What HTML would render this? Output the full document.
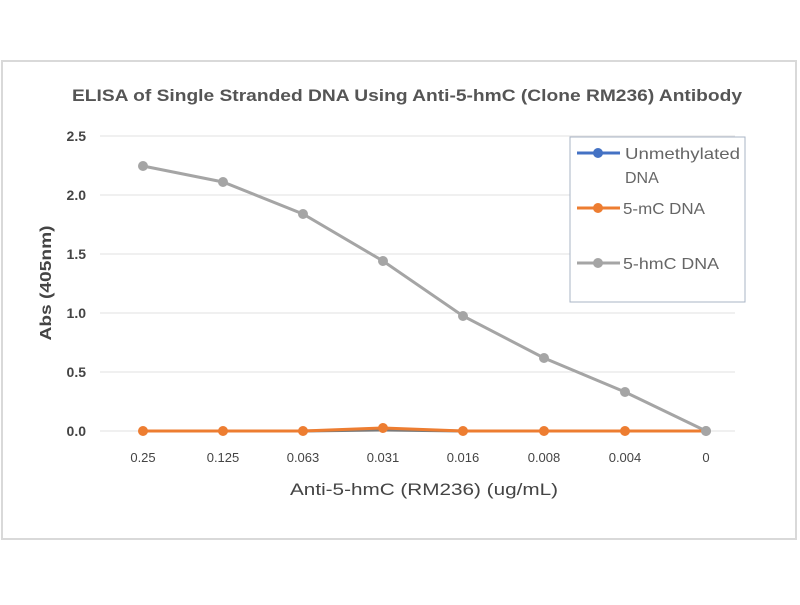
<!DOCTYPE html>
<html><head><style>
body{margin:0;background:#fff;}
svg text{font-family:"Liberation Sans",sans-serif;}
</style></head><body>
<svg width="800" height="600" xmlns="http://www.w3.org/2000/svg">
<rect x="0" y="0" width="800" height="600" fill="#fff"/>
<rect x="2" y="61" width="794" height="478" fill="#fff" stroke="#d9d9d9" stroke-width="2"/>
<text x="72" y="101" font-size="17" font-weight="bold" fill="#555" textLength="670" lengthAdjust="spacingAndGlyphs">ELISA of Single Stranded DNA Using Anti-5-hmC (Clone RM236) Antibody</text>
<g stroke="#e2e2e2" stroke-width="1">
<line x1="100" y1="136" x2="735" y2="136"/>
<line x1="100" y1="195" x2="735" y2="195"/>
<line x1="100" y1="254" x2="735" y2="254"/>
<line x1="100" y1="313" x2="735" y2="313"/>
<line x1="100" y1="372" x2="735" y2="372"/>
<line x1="100" y1="431" x2="735" y2="431"/>
</g>
<g font-size="14" fill="#444" text-anchor="end" font-weight="bold">
<text x="86" y="141">2.5</text><text x="86" y="200">2.0</text><text x="86" y="259">1.5</text>
<text x="86" y="318">1.0</text><text x="86" y="377">0.5</text><text x="86" y="436">0.0</text>
</g>
<g font-size="13" fill="#444" text-anchor="middle">
<text x="143" y="462">0.25</text><text x="223" y="462">0.125</text><text x="303" y="462">0.063</text>
<text x="383" y="462">0.031</text><text x="463" y="462">0.016</text><text x="544" y="462">0.008</text>
<text x="625" y="462">0.004</text><text x="706" y="462">0</text>
</g>
<text x="290" y="495" font-size="17" fill="#444" textLength="268" lengthAdjust="spacingAndGlyphs">Anti-5-hmC (RM236) (ug/mL)</text>
<text transform="translate(51,283) rotate(-90)" font-size="16" font-weight="bold" fill="#444" text-anchor="middle" textLength="115" lengthAdjust="spacingAndGlyphs">Abs (405nm)</text>
<polyline fill="none" stroke="#a5a5a5" stroke-width="3" points="143,166 223,182 303,214 383,261 463,316 544,358 625,392 706,431"/>
<g fill="#a5a5a5"><circle cx="143" cy="166" r="5"/><circle cx="223" cy="182" r="5"/><circle cx="303" cy="214" r="5"/><circle cx="383" cy="261" r="5"/><circle cx="463" cy="316" r="5"/><circle cx="544" cy="358" r="5"/><circle cx="625" cy="392" r="5"/><circle cx="706" cy="431" r="5"/></g>
<polyline fill="none" stroke="#7a7a7a" stroke-width="3" points="143,431 223,431 303,431 383,430 463,431 544,431 625,431 706,431"/>
<polyline fill="none" stroke="#ed7d31" stroke-width="3" points="143,431 223,431 303,431 383,428 463,431 544,431 625,431 706,431"/>
<g fill="#ed7d31"><circle cx="143" cy="431" r="5"/><circle cx="223" cy="431" r="5"/><circle cx="303" cy="431" r="5"/><circle cx="383" cy="428" r="5"/><circle cx="463" cy="431" r="5"/><circle cx="544" cy="431" r="5"/><circle cx="625" cy="431" r="5"/></g>
<circle cx="706" cy="431" r="5" fill="#a5a5a5"/>
<rect x="570" y="137" width="175" height="165" fill="#fff" stroke="#a9b4c6" stroke-width="1"/>
<line x1="577" y1="153" x2="620" y2="153" stroke="#4472c4" stroke-width="3"/><circle cx="598" cy="153" r="5" fill="#4472c4"/>
<line x1="577" y1="208" x2="620" y2="208" stroke="#ed7d31" stroke-width="3"/><circle cx="598" cy="208" r="5" fill="#ed7d31"/>
<line x1="577" y1="263" x2="620" y2="263" stroke="#a5a5a5" stroke-width="3"/><circle cx="598" cy="263" r="5" fill="#a5a5a5"/>
<g font-size="16" fill="#666">
<text x="625" y="159" textLength="115" lengthAdjust="spacingAndGlyphs">Unmethylated</text><text x="625" y="183">DNA</text>
<text x="623" y="214" textLength="82" lengthAdjust="spacingAndGlyphs">5-mC DNA</text><text x="623" y="269" textLength="96" lengthAdjust="spacingAndGlyphs">5-hmC DNA</text>
</g>
</svg>
</body></html>
